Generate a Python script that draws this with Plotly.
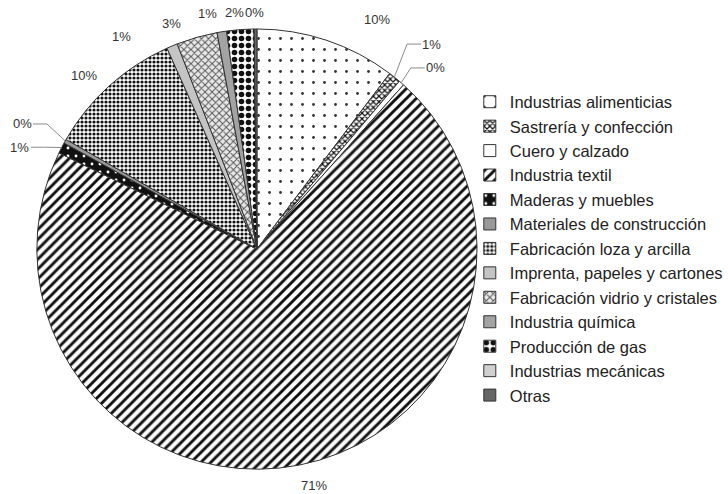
import math
import plotly.graph_objects as go

# Sector shares (percent of industrial establishments)
categories = [
    "Industrias alimenticias",
    "Sastrería y confección",
    "Cuero y calzado",
    "Industria textil",
    "Maderas y muebles",
    "Materiales de construcción",
    "Fabricación loza y arcilla",
    "Imprenta, papeles y cartones",
    "Fabricación vidrio y cristales",
    "Industria química",
    "Producción de gas",
    "Industrias mecánicas",
    "Otras",
]
shares = [10.3, 0.9, 0.4, 70.6, 0.8, 0.3, 10.0, 0.8, 3.0, 0.7, 2.0, 0.0, 0.2]

# Monochrome fills: (pattern shape, foreground, background, size, solidity)
fills = [
    (".", "#333333", "#ffffff", 11, 0.05),
    ("x", "#111111", "#ffffff", 4, 0.5),
    ("", "#ffffff", "#ffffff", 8, 0.2),
    ("/", "#111111", "#ffffff", 7, 0.42),
    (".", "#ffffff", "#111111", 8, 0.1),
    ("", "#999999", "#999999", 8, 0.2),
    (".", "#111111", "#ffffff", 4, 0.5),
    ("", "#c4c4c4", "#c4c4c4", 8, 0.2),
    ("x", "#555555", "#e8e8e8", 5, 0.35),
    ("", "#a3a3a3", "#a3a3a3", 8, 0.2),
    (".", "#111111", "#ffffff", 7, 0.5),
    ("", "#d0d0d0", "#d0d0d0", 8, 0.2),
    ("", "#666666", "#666666", 8, 0.2),
]

# Label placement style: (distance from centre in px, angular nudge in deg, leader line)
label_style = [
    (259, 9.2, False),
    (270, 1.9, True),
    (255, 3.7, True),
    (243, -2.4, False),
    (259, -4.2, True),
    (267, -1.4, True),
    (245, -2.9, False),
    (252, -9.9, False),
    (241, -5.0, False),
    (241, -2.6, False),
    (238, -1.1, False),
    None,
    (237, -0.2, False),
]

W, H = 728, 494
dom_x = [0.0508, 0.658]
dom_y = [0.0486, 0.943]
cx = (dom_x[0] + dom_x[1]) / 2 * W
cy = (1 - (dom_y[0] + dom_y[1]) / 2) * H
r = min((dom_x[1] - dom_x[0]) * W, (dom_y[1] - dom_y[0]) * H) / 2

total = sum(shares)


def polar(dist, deg):
    a = math.radians(deg)
    return cx + dist * math.sin(a), cy - dist * math.cos(a)


def to_paper(px, py):
    return px / W, 1 - py / H


annotations = []
shapes = []
cum = 0.0
for name, v, st in zip(categories, shares, label_style):
    mid = (cum + v / 2) / total * 360
    cum += v
    if st is None:
        continue
    dist, nudge, leader = st
    lx, ly = polar(dist, mid + nudge)
    px, py = to_paper(lx, ly)
    annotations.append(dict(
        x=px, y=py, xref="paper", yref="paper",
        text=f"{round(v / total * 100):d}%",
        showarrow=False, xanchor="center", yanchor="middle",
        font=dict(size=13, color="#333333"),
    ))
    if leader:
        ex, ey = polar(r, mid)
        side = 1 if lx > cx else -1
        end_x = lx - side * 11
        elbow_x = lx - side * 25
        pts = [to_paper(ex, ey), to_paper(elbow_x, ly), to_paper(end_x, ly)]
        path = "M {} {} L {} {} L {} {}".format(
            pts[0][0], pts[0][1], pts[1][0], pts[1][1], pts[2][0], pts[2][1])
        shapes.append(dict(type="path", path=path, xref="paper", yref="paper",
                           line=dict(color="#8a8a8a", width=1)))

fig = go.Figure(
    go.Pie(
        labels=categories,
        values=shares,
        sort=False,
        direction="clockwise",
        rotation=0,
        textinfo="none",
        marker=dict(
            colors=[f[2] for f in fills],
            line=dict(color="#333333", width=1),
            pattern=dict(
                shape=[f[0] for f in fills],
                fgcolor=[f[1] for f in fills],
                bgcolor=[f[2] for f in fills],
                size=[f[3] for f in fills],
                solidity=[f[4] for f in fills],
                fillmode="replace",
            ),
        ),
        domain=dict(x=dom_x, y=dom_y),
        hoverinfo="label+percent",
    )
)

fig.update_layout(
    width=W,
    height=H,
    margin=dict(l=0, r=0, t=0, b=0),
    paper_bgcolor="#ffffff",
    plot_bgcolor="#ffffff",
    font=dict(family="Liberation Sans, Arial, sans-serif", size=14, color="#222222"),
    showlegend=True,
    legend=dict(
        x=0.648,
        y=0.497,
        xanchor="left",
        yanchor="middle",
        font=dict(size=16.5, color="#222222"),
        traceorder="normal",
        bgcolor="rgba(0,0,0,0)",
    ),
    annotations=annotations,
    shapes=shapes,
)

fig.write_html("out.html")
